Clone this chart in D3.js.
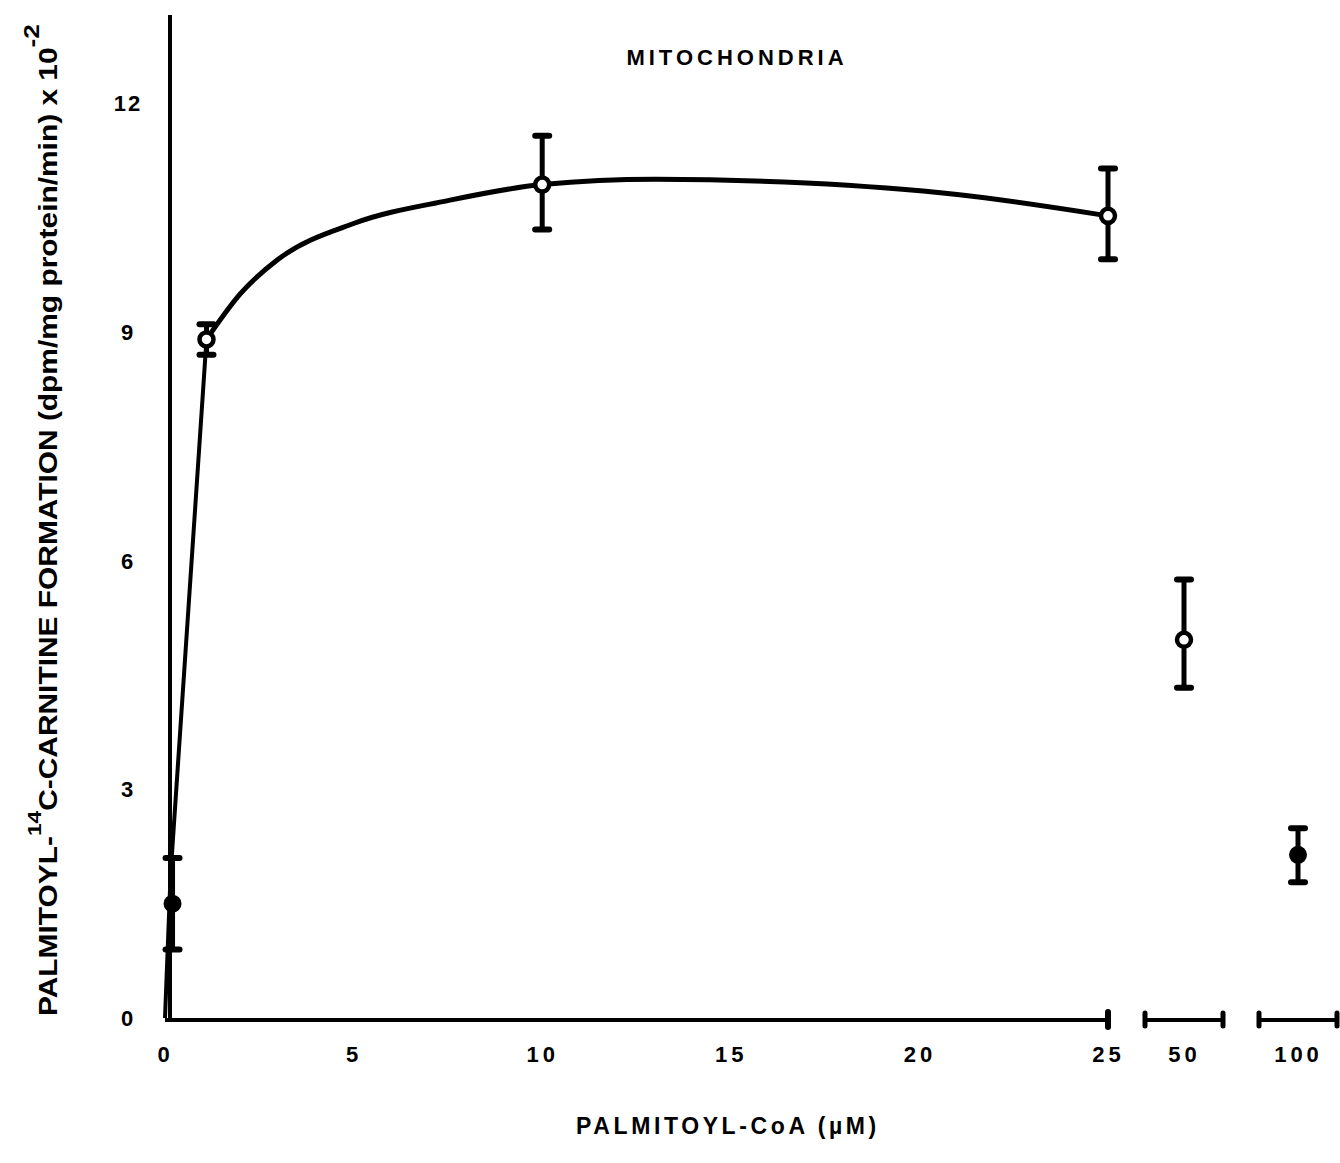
<!DOCTYPE html>
<html>
<head>
<meta charset="utf-8">
<script src="https://cdn.jsdelivr.net/npm/d3@7/dist/d3.min.js"></script>
<style>
  html, body { margin: 0; padding: 0; background: #fff; }
  svg { display: block; }
  text { font-family: "Liberation Sans", Arial, sans-serif; fill: #000; }
</style>
</head>
<body>
<svg id="chart" width="1340" height="1163"></svg>
<script>
// Palmitoyl-CoA concentrations (µM) on the continuous part of the axis
const concentrations = [0.2, 1.1, 10, 25];
const rates = [1.5, 8.9, 10.93, 10.52];
const rateLow = [0.9, 8.7, 10.34, 9.95];
const rateHigh = [2.1, 9.1, 11.57, 11.14];

// High concentrations shown on the broken part of the axis
const brokenCategories = ["50", "100"];
const brokenRates = [4.96, 2.14];
const brokenLow = [4.33, 1.78];
const brokenHigh = [5.75, 2.49];

// Hand-drawn curve: steep straight rise, then a smooth saturation arc
const riseX = [0, 0.15, 1.1];
const riseY = [0, 1.9, 8.9];
const arcX = [1.1, 2, 3, 5, 7.5, 10, 13, 17, 21, 25];
const arcY = [8.9, 9.5, 9.95, 10.42, 10.72, 10.93, 11.0, 10.95, 10.8, 10.52];

const xTicks = [0, 5, 10, 15, 20, 25];
const yTicks = [0, 3, 6, 9, 12];

const svg = d3.select("#chart");

const x = d3.scaleLinear().domain([0, 25]).range([165, 1108]);
const xb = d3.scalePoint().domain(brokenCategories).range([1184, 1298]);
const y = d3.scaleLinear().domain([0, 12]).range([1018, 103]);

const ink = "#000";
const labelFont = 22;

// Y axis
const yAxis = d3.axisLeft(y).tickValues(yTicks).tickSize(0).tickPadding(0);
const gy = svg.append("g").attr("transform", "translate(140,0)").call(yAxis);
gy.select(".domain").remove();
gy.selectAll("text").attr("font-size", labelFont).attr("font-weight", "bold")
  .attr("text-anchor", "middle").attr("x", -12).attr("dy", "0.35em").attr("letter-spacing", "2px");
svg.append("line")
  .attr("x1", x(0) + 5).attr("x2", x(0) + 5)
  .attr("y1", 15).attr("y2", y(0) + 2)
  .attr("stroke", ink).attr("stroke-width", 4);

// X axis (continuous part)
const xAxis = d3.axisBottom(x).tickValues(xTicks).tickSize(0).tickPadding(26).tickFormat(d3.format("d"));
const gx = svg.append("g").attr("transform", `translate(0,${y(0) + 2})`).call(xAxis);
gx.select(".domain").remove();
gx.selectAll("text").attr("font-size", labelFont).attr("font-weight", "bold").attr("letter-spacing", "4px");
svg.append("line")
  .attr("x1", x(0)).attr("x2", x(25))
  .attr("y1", y(0) + 2).attr("y2", y(0) + 2)
  .attr("stroke", ink).attr("stroke-width", 4);
svg.append("line")
  .attr("x1", x(25)).attr("x2", x(25))
  .attr("y1", y(0) - 6).attr("y2", y(0) + 9)
  .attr("stroke", ink).attr("stroke-width", 6).attr("stroke-linecap", "round");

// X axis (broken segments)
const half = 39;
const gb = svg.append("g").attr("transform", `translate(0,${y(0) + 2})`).call(
  d3.axisBottom(xb).tickSize(0).tickPadding(26)
);
gb.select(".domain").remove();
gb.selectAll("text").attr("font-size", labelFont).attr("font-weight", "bold").attr("letter-spacing", "4px");
brokenCategories.forEach(c => {
  const cx = xb(c);
  svg.append("line")
    .attr("x1", cx - half).attr("x2", cx + half)
    .attr("y1", y(0) + 2).attr("y2", y(0) + 2)
    .attr("stroke", ink).attr("stroke-width", 4);
  [cx - half, cx + half].forEach(ex => {
    svg.append("line")
      .attr("x1", ex).attr("x2", ex)
      .attr("y1", y(0) - 5).attr("y2", y(0) + 8)
      .attr("stroke", ink).attr("stroke-width", 5).attr("stroke-linecap", "round");
  });
});

// Curve
const straight = d3.line().x(d => x(d[0])).y(d => y(d[1]));
const smooth = d3.line().x(d => x(d[0])).y(d => y(d[1])).curve(d3.curveMonotoneX);
svg.append("path")
  .datum(riseX.map((v, i) => [v, riseY[i]]))
  .attr("d", straight)
  .attr("fill", "none").attr("stroke", ink).attr("stroke-width", 4)
  .attr("stroke-linejoin", "round");
svg.append("path")
  .datum(arcX.map((v, i) => [v, arcY[i]]))
  .attr("d", smooth)
  .attr("fill", "none").attr("stroke", ink).attr("stroke-width", 5)
  .attr("stroke-linejoin", "round");

// Error bars and markers
function errorBar(px, lo, hi, mid, filled) {
  const g = svg.append("g");
  g.append("line").attr("x1", px).attr("x2", px).attr("y1", y(hi)).attr("y2", y(lo))
    .attr("stroke", ink).attr("stroke-width", 5);
  [hi, lo].forEach(v => {
    g.append("line").attr("x1", px - 7).attr("x2", px + 7).attr("y1", y(v)).attr("y2", y(v))
      .attr("stroke", ink).attr("stroke-width", 6).attr("stroke-linecap", "round");
  });
  g.append("circle").attr("cx", px).attr("cy", y(mid)).attr("r", filled ? 8 : 7)
    .attr("fill", filled ? ink : "#fff").attr("stroke", ink).attr("stroke-width", filled ? 2 : 4.5);
}
concentrations.forEach((c, i) => errorBar(x(c), rateLow[i], rateHigh[i], rates[i], i === 0));
brokenCategories.forEach((c, i) => errorBar(xb(c), brokenLow[i], brokenHigh[i], brokenRates[i], i === 1));

// Titles
svg.append("text").attr("x", 737).attr("y", 65).attr("text-anchor", "middle")
  .attr("font-size", 22).attr("font-weight", "bold").attr("letter-spacing", "4px")
  .text("MITOCHONDRIA");

svg.append("text").attr("x", 728).attr("y", 1134).attr("text-anchor", "middle")
  .attr("font-size", 23).attr("font-weight", "bold").attr("letter-spacing", "3.6px")
  .text("PALMITOYL-CoA (\u00b5M)");

const yt = svg.append("text")
  .attr("transform", "translate(57,1016) rotate(-90)")
  .attr("text-anchor", "start")
  .attr("textLength", 992).attr("lengthAdjust", "spacingAndGlyphs")
  .attr("font-size", 25).attr("font-weight", "bold");
yt.append("tspan").text("PALMITOYL-");
yt.append("tspan").attr("dy", -16).attr("font-size", 19).text("14");
yt.append("tspan").attr("dy", 16).text("C-CARNITINE  FORMATION (dpm/mg protein/min) x 10");
yt.append("tspan").attr("dy", -18).attr("font-size", 22).text("-2");
</script>
</body>
</html>
